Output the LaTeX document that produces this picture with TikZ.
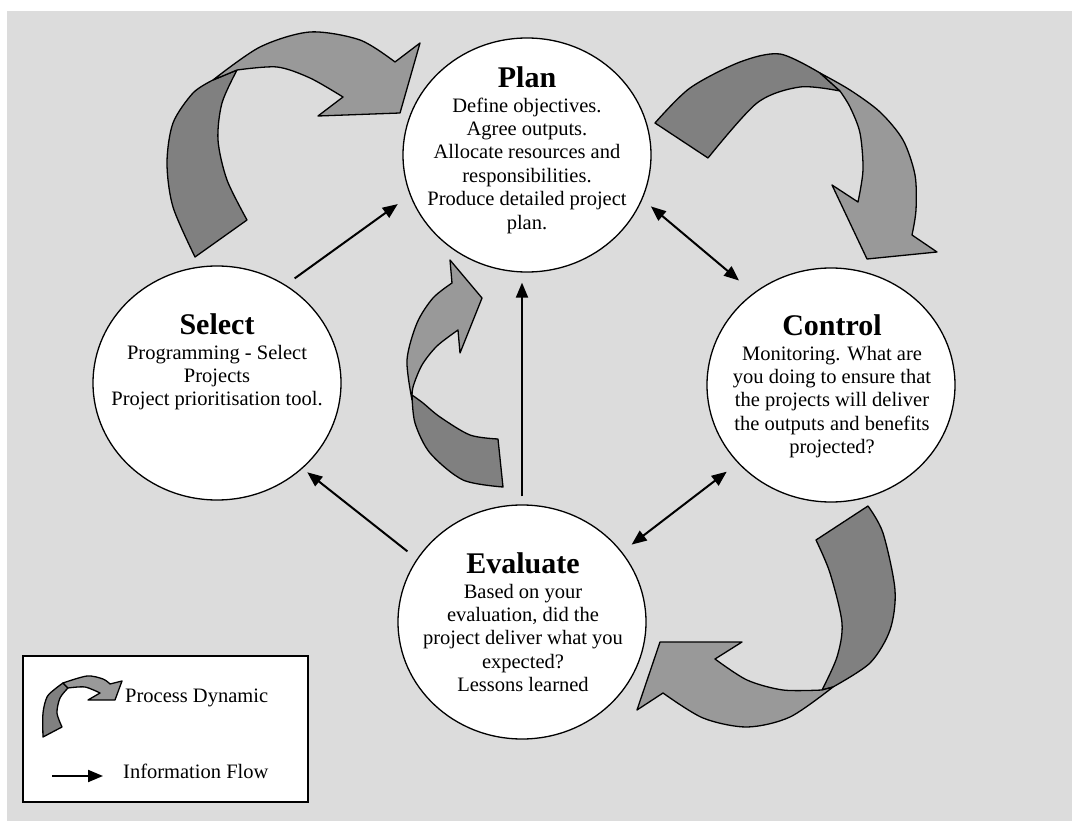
\documentclass[tikz,border=0pt]{standalone}
\usepackage{fontspec}
\setmainfont{Liberation Serif}
\usetikzlibrary{arrows.meta,shapes.geometric}
\definecolor{bggray}{HTML}{DCDCDC}
\definecolor{darkpart}{HTML}{808080}
\definecolor{lightpart}{HTML}{999999}
\begin{document}
\begin{tikzpicture}[x=1pt,y=-1pt,
  stage/.style={ellipse, draw=black, fill=white, line width=1.3pt, minimum width=248pt, minimum height=234pt, inner sep=0pt},
  body/.style={font=\fontsize{20.5}{23.4}\selectfont, align=center, inner sep=0pt, anchor=north},
  legtext/.style={font=\fontsize{20.5}{23.4}\selectfont, inner sep=0pt, anchor=base west},
  flow/.style={line width=2pt, -{Triangle[length=15pt,width=12pt]}},
  twoway/.style={line width=2pt, {Triangle[length=15pt,width=12pt]}-{Triangle[length=15pt,width=12pt]}},
  foldA/.style={fill=darkpart, draw=black, line width=1.3pt, line join=round},
  foldB/.style={fill=lightpart, draw=black, line width=1.3pt, line join=round},
  heading/.style={}
]
\useasboundingbox (0,0) rectangle (1072,821);
\fill[white] (0,0) rectangle (1072,821);
\fill[bggray] (7,11) rectangle (1072,821);

% stages
\node[stage] (plan) at (527,155) {};
\node[stage] (select) at (217,383) {};
\node[stage] (control) at (831,385) {};
\node[stage] (evaluate) at (522,622) {};

\node[body] (plan-t) at (527,66) {{\fontsize{30}{30}\selectfont\bfseries Plan}\\[1.6pt]Define objectives.\\Agree outputs.\\Allocate resources and\\responsibilities.\\Produce detailed project\\plan.};
\node[body] (select-t) at (217,313) {{\fontsize{30}{30}\selectfont\bfseries Select}\\[1.6pt]Programming - Select\\Projects\\Project prioritisation tool.};
\node[body] (control-t) at (832,314) {{\fontsize{30}{30}\selectfont\bfseries Control}\\[1.6pt]Monitoring. What are\\you doing to ensure that\\the projects will deliver\\the outputs and benefits\\projected?};
\node[body] (evaluate-t) at (523,552) {{\fontsize{30}{30}\selectfont\bfseries Evaluate}\\[1.6pt]Based on your\\evaluation, did the\\project deliver what you\\expected?\\Lessons learned};

% information flow
\draw[flow, shorten <=11pt, shorten >=15pt] (select.55) -- (plan.199);
\draw[flow, shorten <=8pt, shorten >=10pt] (evaluate.north) -- (evaluate.north |- plan.south);
\draw[twoway, shorten <=11pt, shorten >=19pt] (plan.-21) -- (control.130);
\draw[twoway, shorten <=14pt, shorten >=12pt] (control.220) -- (evaluate.35);
\draw[flow, shorten <=12pt, shorten >=6pt] (evaluate.149) -- (select.-45);

% process dynamic arrows
% top-left
\filldraw[foldA] (195,257) -- plot[smooth] coordinates {(195,257) (173,207) (167,163) (173,123) (193,93) (213,80)} -- (237,70) -- plot[smooth] coordinates {(237,70) (222,103) (218,140) (227,180) (247,220)} -- cycle;
\filldraw[foldB] (213,80) -- plot[smooth] coordinates {(213,80) (260,47) (310,32) (360,40) (395,62)} -- (420,43) -- (400,113) -- (318,116) -- (343,97) -- plot[smooth] coordinates {(343,97) (310,78) (277,67) (237,70)} -- cycle;
% top-right
\filldraw[foldA] (655,123) -- plot[smooth] coordinates {(655,123) (690,88) (740,62) (780,54) (820,73)} -- (840,91) -- plot[smooth] coordinates {(840,91) (800,87) (757,103) (708,158)} -- cycle;
\filldraw[foldB] (820,73) -- plot[smooth] coordinates {(820,73) (850,90) (880,112) (903,140) (915,175) (916,210) (912,235)} -- (937,252) -- (867,259) -- (832,185) -- (858,202) -- plot[smooth] coordinates {(858,202) (863,170) (860,133) (850,107) (840,91)} -- cycle;
% bottom-right
\filldraw[foldA] (816,540) -- (868,506) -- plot[smooth] coordinates {(868,506) (883,533) (895,590) (890,630) (870,663) (833,687)} -- (822,690) -- plot[smooth] coordinates {(822,690) (837,657) (842,623) (830,573) (816,540)} -- cycle;
\filldraw[foldB] (833,687) -- plot[smooth] coordinates {(833,687) (790,717) (747,727) (703,718) (663,693)} -- (637,710) -- (660,642) -- (742,642) -- (715,659) -- plot[smooth] coordinates {(715,659) (747,680) (783,690) (822,690)} -- cycle;
% centre small
\filldraw[foldA] (503,487) -- (498,439) -- plot[smooth] coordinates {(498,439) (470,435) (440,417) (423,403) (412,395)} -- plot[smooth] coordinates {(412,395) (415,423) (430,453) (463,480) (503,487)} -- cycle;
\filldraw[foldB] (412,400) -- plot[smooth] coordinates {(412,400) (407,360) (417,323) (433,298) (452,283)} -- (450,260) -- (482,298) -- (460,353) -- (458,330) -- plot[smooth] coordinates {(458,330) (437,346) (422,365) (413,387) (412,400)} -- cycle;

% legend
\node[draw=black, line width=1.3pt, fill=white, minimum width=285pt, minimum height=146pt, inner sep=0pt] (legend) at (165.5,729) {};
\filldraw[foldA] (43,737) -- plot[smooth] coordinates {(43,737) (43,713) (47,697) (55,689) (63,683)} -- (68,688) -- plot[smooth] coordinates {(68,688) (60,698) (57,713) (62,727)} -- cycle;
\filldraw[foldB] (63,683) -- plot[smooth] coordinates {(63,683) (87,676) (103,679) (110,684)} -- (122,681) -- (115,700) -- (88,700) -- (100,693) -- plot[smooth] coordinates {(100,693) (85,687) (68,688)} -- cycle;
\node[legtext] (leg-pd) at (125,702) {Process Dynamic};
\node[legtext] (leg-if) at (123,778) {Information Flow};
\coordinate (legtail) at (52,776);
\draw[flow, shorten >=20pt] (legtail) -- (legtail -| leg-if.west);
\end{tikzpicture}
\end{document}
